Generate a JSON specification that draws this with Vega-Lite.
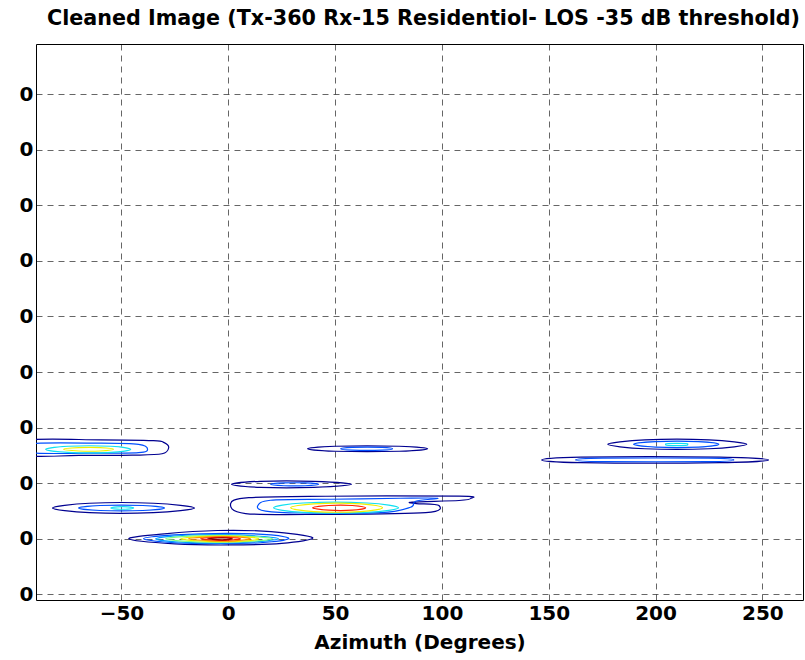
{
 "$schema": "https://vega.github.io/schema/vega-lite/v6.json",
 "width": 767, "height": 556,
 "autosize": {"type": "none"},
 "padding": {"left": 36, "top": 44, "right": 2, "bottom": 60},
 "background": "white",
 "title": {"text": "Cleaned Image (Tx-360 Rx-15 Residentiol- LOS -35 dB threshold)", "font": "DejaVu Sans", "fontSize": 20.7, "fontWeight": "bold", "anchor": "middle", "offset": 14, "dx": 4, "color": "black"},
 "config": {
  "view": {"stroke": "black", "strokeWidth": 1},
  "axis": {"labelFont": "DejaVu Sans", "labelFontSize": 20, "labelFontWeight": "bold", "labelColor": "black", "titleFont": "DejaVu Sans", "titleFontSize": 20, "titleFontWeight": "bold", "titleColor": "black", "grid": true, "gridColor": "black", "gridDash": [6, 5], "gridOpacity": 0.6, "gridWidth": 1, "ticks": false, "domain": false}
 },
 "datasets": {
  "rings": [
   {"g":"A1","c":1,"i":0,"x":-95,"y":2.77},{"g":"A1","c":1,"i":1,"x":-60,"y":2.78},{"g":"A1","c":1,"i":2,"x":-35,"y":2.765},{"g":"A1","c":1,"i":3,"x":-30,"y":2.73},{"g":"A1","c":1,"i":4,"x":-27.9,"y":2.64},{"g":"A1","c":1,"i":5,"x":-31,"y":2.53},{"g":"A1","c":1,"i":6,"x":-45,"y":2.505},{"g":"A1","c":1,"i":7,"x":-70,"y":2.5},{"g":"A1","c":1,"i":8,"x":-95,"y":2.5},
   {"g":"A2","c":2,"i":0,"x":-93,"y":2.71},{"g":"A2","c":2,"i":1,"x":-60,"y":2.72},{"g":"A2","c":2,"i":2,"x":-42,"y":2.7},{"g":"A2","c":2,"i":3,"x":-37.8,"y":2.615},{"g":"A2","c":2,"i":4,"x":-42,"y":2.55},{"g":"A2","c":2,"i":5,"x":-65,"y":2.54},{"g":"A2","c":2,"i":6,"x":-93,"y":2.55},
   {"g":"A3","c":4,"i":0,"x":-85.5,"y":2.61},{"g":"A3","c":4,"i":1,"x":-75,"y":2.665},{"g":"A3","c":4,"i":2,"x":-55,"y":2.665},{"g":"A3","c":4,"i":3,"x":-45.7,"y":2.61},{"g":"A3","c":4,"i":4,"x":-55,"y":2.555},{"g":"A3","c":4,"i":5,"x":-75,"y":2.555},
   {"g":"A4","c":6,"i":0,"x":-77.1,"y":2.61},{"g":"A4","c":6,"i":1,"x":-70,"y":2.64},{"g":"A4","c":6,"i":2,"x":-60,"y":2.64},{"g":"A4","c":6,"i":3,"x":-53.7,"y":2.61},{"g":"A4","c":6,"i":4,"x":-60,"y":2.58},{"g":"A4","c":6,"i":5,"x":-70,"y":2.58},
   {"g":"B1","c":1,"i":0,"x":-82.3,"y":1.555},{"g":"B1","c":1,"i":1,"x":-65,"y":1.64},{"g":"B1","c":1,"i":2,"x":-35,"y":1.64},{"g":"B1","c":1,"i":3,"x":-15.8,"y":1.555},{"g":"B1","c":1,"i":4,"x":-35,"y":1.47},{"g":"B1","c":1,"i":5,"x":-65,"y":1.47},
   {"g":"B2","c":2,"i":0,"x":-70.1,"y":1.555},{"g":"B2","c":2,"i":1,"x":-60,"y":1.6},{"g":"B2","c":2,"i":2,"x":-40,"y":1.6},{"g":"B2","c":2,"i":3,"x":-29.8,"y":1.555},{"g":"B2","c":2,"i":4,"x":-40,"y":1.51},{"g":"B2","c":2,"i":5,"x":-60,"y":1.51},
   {"g":"B3","c":4,"i":0,"x":-55,"y":1.555},{"g":"B3","c":4,"i":1,"x":-52,"y":1.575},{"g":"B3","c":4,"i":2,"x":-47,"y":1.575},{"g":"B3","c":4,"i":3,"x":-44.3,"y":1.555},{"g":"B3","c":4,"i":4,"x":-47,"y":1.535},{"g":"B3","c":4,"i":5,"x":-52,"y":1.535},
   {"g":"C1","c":1,"i":0,"x":-46.5,"y":1.0},{"g":"C1","c":1,"i":1,"x":-30,"y":1.09},{"g":"C1","c":1,"i":2,"x":-5,"y":1.15},{"g":"C1","c":1,"i":3,"x":20,"y":1.13},{"g":"C1","c":1,"i":4,"x":39.5,"y":1.02},{"g":"C1","c":1,"i":5,"x":25,"y":0.92},{"g":"C1","c":1,"i":6,"x":0,"y":0.89},{"g":"C1","c":1,"i":7,"x":-25,"y":0.91},
   {"g":"C2","c":2,"i":0,"x":-39.7,"y":1.0},{"g":"C2","c":2,"i":1,"x":-25,"y":1.07},{"g":"C2","c":2,"i":2,"x":0,"y":1.1},{"g":"C2","c":2,"i":3,"x":20,"y":1.07},{"g":"C2","c":2,"i":4,"x":28.2,"y":1.0},{"g":"C2","c":2,"i":5,"x":15,"y":0.93},{"g":"C2","c":2,"i":6,"x":-5,"y":0.915},{"g":"C2","c":2,"i":7,"x":-25,"y":0.93},
   {"g":"C3","c":3,"i":0,"x":-34,"y":1.0},{"g":"C3","c":3,"i":1,"x":-20,"y":1.065},{"g":"C3","c":3,"i":2,"x":5,"y":1.07},{"g":"C3","c":3,"i":3,"x":23.5,"y":1.0},{"g":"C3","c":3,"i":4,"x":5,"y":0.93},{"g":"C3","c":3,"i":5,"x":-20,"y":0.935},
   {"g":"C4","c":5,"i":0,"x":-29.3,"y":1.0},{"g":"C4","c":5,"i":1,"x":-15,"y":1.055},{"g":"C4","c":5,"i":2,"x":5,"y":1.055},{"g":"C4","c":5,"i":3,"x":20.7,"y":1.0},{"g":"C4","c":5,"i":4,"x":5,"y":0.945},{"g":"C4","c":5,"i":5,"x":-15,"y":0.945},
   {"g":"C5","c":6,"i":0,"x":-22.3,"y":1.0},{"g":"C5","c":6,"i":1,"x":-10,"y":1.045},{"g":"C5","c":6,"i":2,"x":5,"y":1.045},{"g":"C5","c":6,"i":3,"x":14.2,"y":1.0},{"g":"C5","c":6,"i":4,"x":5,"y":0.955},{"g":"C5","c":6,"i":5,"x":-10,"y":0.955},
   {"g":"C6","c":7,"i":0,"x":-18.6,"y":1.0},{"g":"C6","c":7,"i":1,"x":-8,"y":1.035},{"g":"C6","c":7,"i":2,"x":3,"y":1.035},{"g":"C6","c":7,"i":3,"x":10.4,"y":1.0},{"g":"C6","c":7,"i":4,"x":3,"y":0.965},{"g":"C6","c":7,"i":5,"x":-8,"y":0.965},
   {"g":"C7","c":8,"i":0,"x":-13,"y":1.0},{"g":"C7","c":8,"i":1,"x":-6,"y":1.025},{"g":"C7","c":8,"i":2,"x":0,"y":1.025},{"g":"C7","c":8,"i":3,"x":5.8,"y":1.0},{"g":"C7","c":8,"i":4,"x":0,"y":0.975},{"g":"C7","c":8,"i":5,"x":-6,"y":0.975},
   {"g":"C8","c":9,"i":0,"x":-9.7,"y":1.0},{"g":"C8","c":9,"i":1,"x":-5,"y":1.015},{"g":"C8","c":9,"i":2,"x":-1,"y":1.015},{"g":"C8","c":9,"i":3,"x":2,"y":1.0},{"g":"C8","c":9,"i":4,"x":-1,"y":0.985},{"g":"C8","c":9,"i":5,"x":-5,"y":0.985},
   {"g":"D1","c":1,"i":0,"x":1.1,"y":1.635},{"g":"D1","c":1,"i":1,"x":9.6,"y":1.74},{"g":"D1","c":1,"i":2,"x":45.6,"y":1.766},{"g":"D1","c":1,"i":3,"x":108,"y":1.77},{"g":"D1","c":1,"i":4,"x":113.4,"y":1.725},{"g":"D1","c":1,"i":5,"x":108,"y":1.69},{"g":"D1","c":1,"i":6,"x":86.1,"y":1.66},{"g":"D1","c":1,"i":7,"x":88,"y":1.635},{"g":"D1","c":1,"i":8,"x":98.6,"y":1.6},{"g":"D1","c":1,"i":9,"x":92.4,"y":1.47},{"g":"D1","c":1,"i":10,"x":45.6,"y":1.44},{"g":"D1","c":1,"i":11,"x":8.1,"y":1.455},
   {"g":"D2","c":2,"i":0,"x":13.7,"y":1.586},{"g":"D2","c":2,"i":1,"x":19.8,"y":1.694},{"g":"D2","c":2,"i":2,"x":47.9,"y":1.712},{"g":"D2","c":2,"i":3,"x":80.6,"y":1.73},{"g":"D2","c":2,"i":4,"x":98,"y":1.73},{"g":"D2","c":2,"i":5,"x":87.7,"y":1.676},{"g":"D2","c":2,"i":6,"x":85.3,"y":1.568},{"g":"D2","c":2,"i":7,"x":71.3,"y":1.47},{"g":"D2","c":2,"i":8,"x":33.8,"y":1.465},{"g":"D2","c":2,"i":9,"x":17.5,"y":1.5},
   {"g":"D3","c":4,"i":0,"x":21.2,"y":1.56},{"g":"D3","c":4,"i":1,"x":35,"y":1.645},{"g":"D3","c":4,"i":2,"x":65,"y":1.645},{"g":"D3","c":4,"i":3,"x":79.7,"y":1.56},{"g":"D3","c":4,"i":4,"x":65,"y":1.475},{"g":"D3","c":4,"i":5,"x":35,"y":1.475},
   {"g":"D4","c":6,"i":0,"x":29.2,"y":1.56},{"g":"D4","c":6,"i":1,"x":40,"y":1.63},{"g":"D4","c":6,"i":2,"x":62,"y":1.63},{"g":"D4","c":6,"i":3,"x":72.2,"y":1.56},{"g":"D4","c":6,"i":4,"x":62,"y":1.49},{"g":"D4","c":6,"i":5,"x":40,"y":1.49},
   {"g":"D5","c":8,"i":0,"x":39.5,"y":1.56},{"g":"D5","c":8,"i":1,"x":47,"y":1.6},{"g":"D5","c":8,"i":2,"x":58,"y":1.6},{"g":"D5","c":8,"i":3,"x":64.3,"y":1.56},{"g":"D5","c":8,"i":4,"x":58,"y":1.515},{"g":"D5","c":8,"i":5,"x":47,"y":1.515},
   {"g":"E1","c":1,"i":0,"x":1.5,"y":1.98},{"g":"E1","c":1,"i":1,"x":15,"y":2.035},{"g":"E1","c":1,"i":2,"x":40,"y":2.035},{"g":"E1","c":1,"i":3,"x":57.7,"y":1.98},{"g":"E1","c":1,"i":4,"x":40,"y":1.925},{"g":"E1","c":1,"i":5,"x":15,"y":1.925},
   {"g":"E2","c":2,"i":0,"x":19.8,"y":1.98},{"g":"E2","c":2,"i":1,"x":26,"y":2.005},{"g":"E2","c":2,"i":2,"x":36,"y":2.005},{"g":"E2","c":2,"i":3,"x":42.3,"y":1.98},{"g":"E2","c":2,"i":4,"x":36,"y":1.955},{"g":"E2","c":2,"i":5,"x":26,"y":1.955},
   {"g":"F1","c":1,"i":0,"x":37.1,"y":2.62},{"g":"F1","c":1,"i":1,"x":50,"y":2.665},{"g":"F1","c":1,"i":2,"x":80,"y":2.665},{"g":"F1","c":1,"i":3,"x":93.3,"y":2.62},{"g":"F1","c":1,"i":4,"x":80,"y":2.575},{"g":"F1","c":1,"i":5,"x":50,"y":2.575},
   {"g":"F2","c":2,"i":0,"x":52.6,"y":2.62},{"g":"F2","c":2,"i":1,"x":58,"y":2.645},{"g":"F2","c":2,"i":2,"x":72,"y":2.645},{"g":"F2","c":2,"i":3,"x":76.9,"y":2.62},{"g":"F2","c":2,"i":4,"x":72,"y":2.595},{"g":"F2","c":2,"i":5,"x":58,"y":2.595},
   {"g":"G1","c":1,"i":0,"x":177.6,"y":2.7},{"g":"G1","c":1,"i":1,"x":195,"y":2.78},{"g":"G1","c":1,"i":2,"x":225,"y":2.78},{"g":"G1","c":1,"i":3,"x":242.7,"y":2.7},{"g":"G1","c":1,"i":4,"x":225,"y":2.62},{"g":"G1","c":1,"i":5,"x":195,"y":2.62},
   {"g":"G2","c":2,"i":0,"x":189.7,"y":2.7},{"g":"G2","c":2,"i":1,"x":200,"y":2.75},{"g":"G2","c":2,"i":2,"x":220,"y":2.75},{"g":"G2","c":2,"i":3,"x":229.6,"y":2.7},{"g":"G2","c":2,"i":4,"x":220,"y":2.65},{"g":"G2","c":2,"i":5,"x":200,"y":2.65},
   {"g":"G3","c":4,"i":0,"x":204.7,"y":2.7},{"g":"G3","c":4,"i":1,"x":206,"y":2.715},{"g":"G3","c":4,"i":2,"x":214,"y":2.715},{"g":"G3","c":4,"i":3,"x":215,"y":2.7},{"g":"G3","c":4,"i":4,"x":214,"y":2.68},{"g":"G3","c":4,"i":5,"x":206,"y":2.68},
   {"g":"H1","c":1,"i":0,"x":146.7,"y":2.42},{"g":"H1","c":1,"i":1,"x":165,"y":2.47},{"g":"H1","c":1,"i":2,"x":230,"y":2.47},{"g":"H1","c":1,"i":3,"x":252.9,"y":2.42},{"g":"H1","c":1,"i":4,"x":230,"y":2.37},{"g":"H1","c":1,"i":5,"x":165,"y":2.37},
   {"g":"H2","c":2,"i":0,"x":162.6,"y":2.42},{"g":"H2","c":2,"i":1,"x":175,"y":2.45},{"g":"H2","c":2,"i":2,"x":225,"y":2.45},{"g":"H2","c":2,"i":3,"x":236.6,"y":2.42},{"g":"H2","c":2,"i":4,"x":225,"y":2.39},{"g":"H2","c":2,"i":5,"x":175,"y":2.39}
  ]
 },
 "data": {"name": "rings"},
 "mark": {"type": "line", "interpolate": "cardinal-closed", "strokeWidth": 1.2, "clip": true},
 "encoding": {
  "x": {"field": "x", "type": "quantitative", "scale": {"domain": [-90, 269], "nice": false, "zero": false},
        "axis": {"values": [-50, 0, 50, 100, 150, 200, 250], "title": "Azimuth (Degrees)", "labelPadding": 3, "titlePadding": 9}},
  "y": {"field": "y", "type": "quantitative", "scale": {"domain": [-0.1, 9.9], "nice": false, "zero": false},
        "axis": {"values": [0, 1, 2, 3, 4, 5, 6, 7, 8, 9], "labelExpr": "'0'", "title": null, "labelPadding": 3}},
  "color": {"field": "c", "type": "ordinal", "scale": {"domain": [1, 2, 3, 4, 5, 6, 7, 8, 9], "range": ["#000090", "#0050FF", "#00A0FF", "#10E0F0", "#80FF80", "#F0F000", "#FF9000", "#FF2000", "#900000"]}, "legend": null},
  "detail": {"field": "g"},
  "order": {"field": "i", "type": "quantitative"}
 }
}
